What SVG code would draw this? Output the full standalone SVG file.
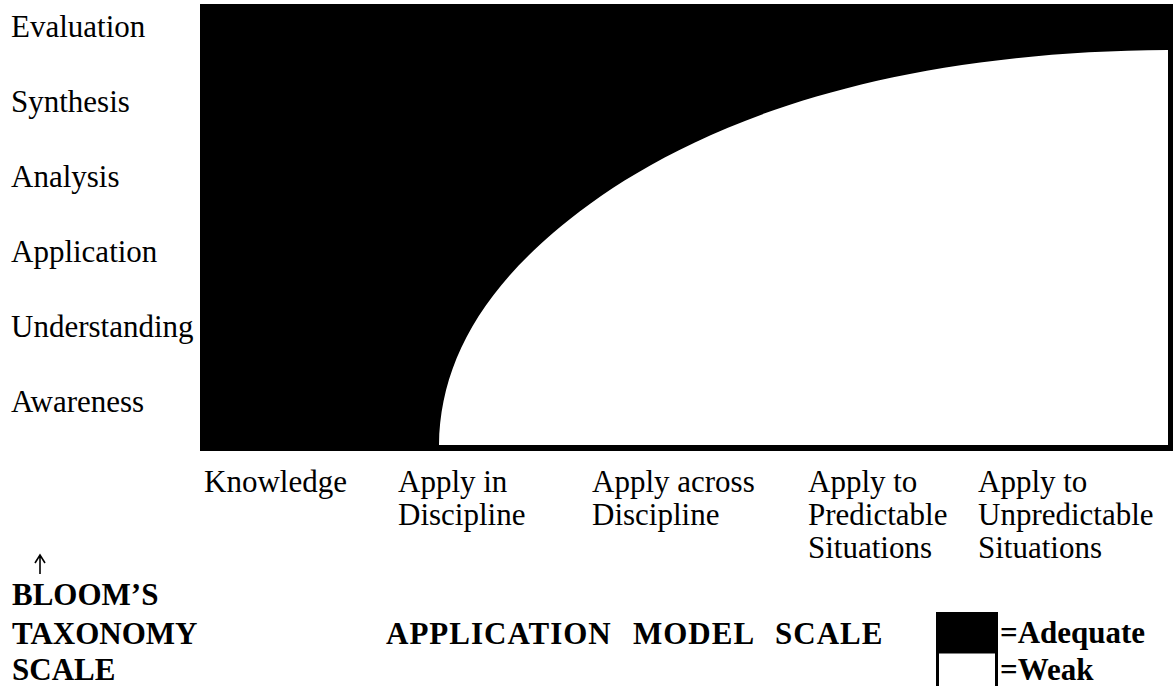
<svg xmlns="http://www.w3.org/2000/svg" width="1173" height="686" viewBox="0 0 1173 686">
  <style>
    .lbl { font-family: "Liberation Serif", "Times New Roman", serif; font-size: 31px; fill: #000; }
    .bold { font-family: "Liberation Serif", "Times New Roman", serif; font-size: 31px; font-weight: bold; fill: #000; }
    .arrow { fill: none; stroke: #000; stroke-width: 1.6; }
  </style>
  <rect x="0" y="0" width="1173" height="686" fill="#fff"/>
  <g id="chart">
    <rect x="200" y="4" width="973" height="447" fill="#000"/>
    <path d="M439,445 C440,370 475,300 553,233 C640,158 820,52 1168,50 L1168,445 Z" fill="#fff"/>
  </g>
  <g id="y-axis-labels">
    <text class="lbl" x="11" y="37">Evaluation</text>
    <text class="lbl" x="11" y="112">Synthesis</text>
    <text class="lbl" x="11" y="187">Analysis</text>
    <text class="lbl" x="11" y="262">Application</text>
    <text class="lbl" x="11" y="337">Understanding</text>
    <text class="lbl" x="11" y="412">Awareness</text>
  </g>
  <g id="x-axis-labels">
    <text class="lbl" x="204" y="492">Knowledge</text>
    <text class="lbl" x="398" y="492">Apply in<tspan x="398" dy="33">Discipline</tspan></text>
    <text class="lbl" x="592" y="492">Apply across<tspan x="592" dy="33">Discipline</tspan></text>
    <text class="lbl" x="808" y="492">Apply to<tspan x="808" dy="33">Predictable</tspan><tspan x="808" dy="33">Situations</tspan></text>
    <text class="lbl" x="978" y="492">Apply to<tspan x="978" dy="33">Unpredictable</tspan><tspan x="978" dy="33">Situations</tspan></text>
  </g>
  <g id="connectors">
    <path class="arrow" d="M40,574 L40,556 M35,563 L40,555 L45,563"/>
  </g>
  <g id="bloom-scale">
    <text class="bold" x="12" y="605">BLOOM’S</text>
    <text class="bold" x="12" y="644">TAXONOMY</text>
    <text class="bold" x="12" y="680">SCALE</text>
  </g>
  <g id="application-scale">
    <text class="bold" y="644" letter-spacing="1"><tspan x="386">APPLICATION</tspan><tspan x="633">MODEL</tspan><tspan x="775">SCALE</tspan></text>
  </g>
  <g id="legend">
    <rect x="936" y="612" width="62" height="40" fill="#000"/>
    <rect x="937.5" y="652" width="59" height="40" fill="#fff" stroke="#000" stroke-width="3"/>
    <text class="bold" x="1000" y="643">=Adequate</text>
    <text class="bold" x="1000" y="680">=Weak</text>
  </g>
</svg>
